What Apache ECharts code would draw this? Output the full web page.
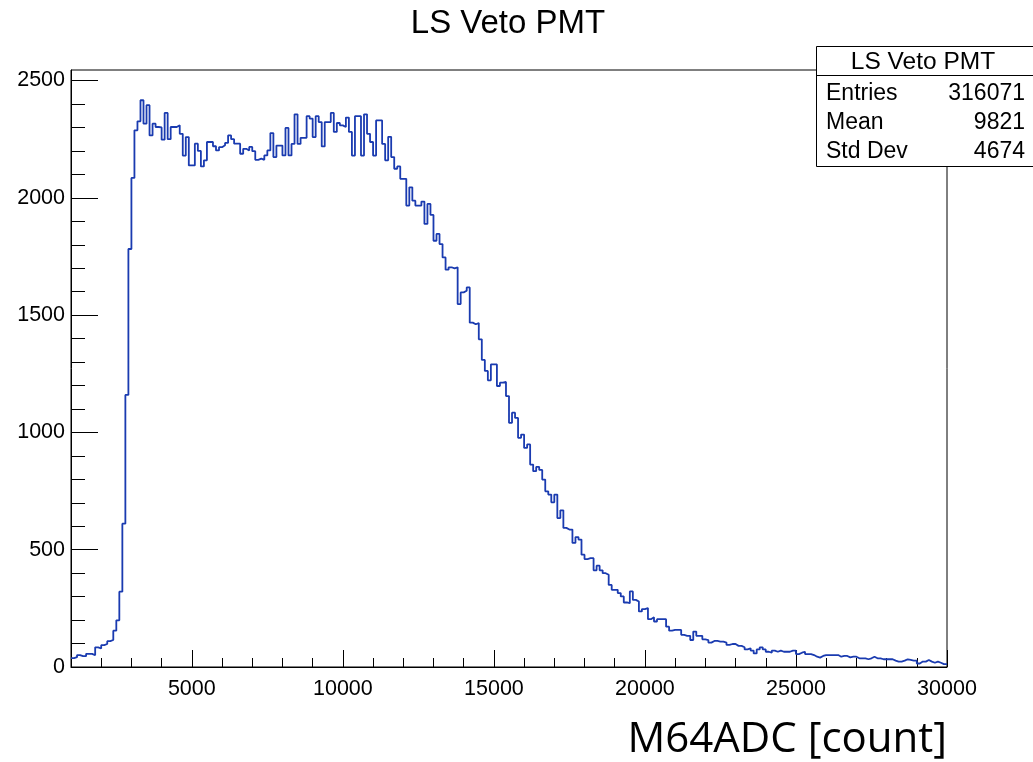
<!DOCTYPE html>
<html><head><meta charset="utf-8">
<script src="https://cdn.jsdelivr.net/npm/echarts@6/dist/echarts.min.js"></script>
<style>html,body{margin:0;padding:0;background:#fff}#c{width:1033px;height:762px}</style>
</head><body><div id="c"></div>
<script>
const chartTitle = 'LS Veto PMT';
const xAxisTitle = 'M64ADC [count]';
const binStart = 1000;
const binWidth = 100;
const counts = [
38, 42, 51, 46, 46, 56, 56, 50, 84, 79,
93, 98, 110, 115, 155, 199, 321, 611, 1160, 1782,
2085, 2288, 2326, 2416, 2316, 2395, 2266, 2316, 2302, 2300,
2248, 2362, 2250, 2302, 2302, 2309, 2273, 2180, 2259, 2138,
2138, 2231, 2200, 2134, 2160, 2238, 2238, 2220, 2202, 2216,
2224, 2234, 2266, 2250, 2231, 2231, 2188, 2209, 2202, 2217,
2199, 2162, 2167, 2162, 2181, 2202, 2276, 2174, 2223, 2223,
2181, 2298, 2181, 2230, 2356, 2230, 2256, 2256, 2348, 2338,
2259, 2348, 2323, 2219, 2323, 2323, 2362, 2281, 2319, 2309,
2302, 2342, 2281, 2180, 2348, 2348, 2180, 2356, 2273, 2238,
2180, 2330, 2330, 2230, 2160, 2260, 2174, 2124, 2134, 2081,
2081, 1967, 2045, 1988, 1967, 1967, 1984, 1889, 1974, 1927,
1817, 1846, 1803, 1746, 1694, 1704, 1699, 1704, 1547, 1597,
1604, 1618, 1468, 1461, 1466, 1397, 1309, 1262, 1222, 1290,
1290, 1198, 1212, 1215, 1155, 1041, 1084, 1062, 977, 991,
934, 949, 863, 835, 853, 840, 799, 749, 735, 702,
735, 635, 668, 593, 586, 586, 529, 554, 543, 479,
460, 464, 464, 412, 432, 412, 400, 393, 350, 329,
329, 315, 301, 275, 272, 322, 286, 279, 237, 247,
251, 204, 212, 194, 204, 204, 204, 172, 155, 158,
158, 158, 137, 133, 133, 115, 151, 133, 133, 118,
115, 104, 111, 111, 108, 108, 104, 94, 98, 98,
90, 90, 84, 75, 80, 70, 58, 75, 84, 75,
65, 61, 70, 65, 70, 65, 65, 65, 70, 70,
55, 61, 65, 55, 55, 51, 44, 40, 47, 51,
51, 51, 51, 51, 44, 47, 47, 41, 44, 44,
37, 37, 37, 33, 37, 44, 37, 37, 33, 33,
33, 33, 27, 23, 23, 27, 33, 30, 27, 27,
15, 23, 23, 30, 23, 18, 23, 18, 12, 12
];
const xMajorTicks = [5000, 10000, 15000, 20000, 25000, 30000];
const xMinorTicks = [2000, 3000, 4000, 6000, 7000, 8000, 9000, 11000, 12000, 13000, 14000,
  16000, 17000, 18000, 19000, 21000, 22000, 23000, 24000, 26000, 27000, 28000, 29000];
const yMajorTicks = [0, 500, 1000, 1500, 2000, 2500];
const yMinorTicks = [100, 200, 300, 400, 600, 700, 800, 900, 1100, 1200, 1300, 1400,
  1600, 1700, 1800, 1900, 2100, 2200, 2300, 2400];
const statsLabels = ['Entries', 'Mean', 'Std Dev'];
const statsValues = ['316071', '9821', '4674'];

const xMin = 1000, xMax = 30000, yMin = 0, yMax = 2545;

const data = counts.map((c, i) => [binStart + i * binWidth, c]);
data.push([binStart + counts.length * binWidth, counts[counts.length - 1]]);

const FONT = '"Liberation Sans", Arial, Helvetica, sans-serif';
const chart = echarts.init(document.getElementById('c'), null, {renderer: 'canvas'});
const plain = v => String(Math.round(v));

function xAx(ticks, len, labels, line) {
  return {
    type: 'value', min: xMin, max: xMax, position: 'bottom',
    axisLine: {show: line, onZero: false, lineStyle: {color: '#000', width: 1}},
    axisTick: {show: true, inside: true, length: len, customValues: ticks, lineStyle: {color: '#000', width: 1}},
    axisLabel: labels ? {show: true, customValues: ticks, formatter: plain, color: '#000', fontSize: 21.5, fontFamily: FONT, margin: 11} : {show: false},
    splitLine: {show: false}, minorTick: {show: false}
  };
}
function yAx(ticks, len, labels, line) {
  return {
    type: 'value', min: yMin, max: yMax, position: 'left',
    axisLine: {show: line, onZero: false, lineStyle: {color: '#000', width: 1}},
    axisTick: {show: true, inside: true, length: len, customValues: ticks, lineStyle: {color: '#000', width: 1}},
    axisLabel: labels ? {show: true, customValues: ticks, formatter: plain, color: '#000', fontSize: 21.5, fontFamily: FONT, margin: 6} : {show: false},
    splitLine: {show: false}, minorTick: {show: false}
  };
}

const statsX = 816, statsY = 46, statsW = 240, statsH = 120;
const graphics = [
  {type: 'text', x: 508, y: 24, z: 100,
   style: {text: chartTitle, fill: '#000', fontSize: 33, fontFamily: FONT, align: 'center', verticalAlign: 'middle'}},
  {type: 'rect', z: 100, shape: {x: statsX + 0.5, y: statsY + 0.5, width: statsW, height: statsH},
   style: {fill: '#fff', stroke: '#000', lineWidth: 1}},
  {type: 'line', z: 101, shape: {x1: statsX, y1: 75.5, x2: 1033, y2: 75.5},
   style: {stroke: '#000', lineWidth: 1}},
  {type: 'text', x: 923, y: 62, z: 102,
   style: {text: chartTitle, fill: '#000', fontSize: 24.5, fontFamily: FONT, align: 'center', verticalAlign: 'middle'}},
  {type: 'text', x: 947, y: 740, z: 100,
   style: {text: xAxisTitle, fill: '#000', fontSize: 42, fontFamily: '"Open Sans", "Noto Sans", sans-serif', align: 'right', verticalAlign: 'middle'}}
];
const rowY = [94, 123, 152];
statsLabels.forEach((s, i) => {
  graphics.push({type: 'text', x: 826, y: rowY[i], z: 102,
    style: {text: s, fill: '#000', fontSize: 23, fontFamily: FONT, align: 'left', verticalAlign: 'middle'}});
  graphics.push({type: 'text', x: 1025, y: rowY[i], z: 102,
    style: {text: statsValues[i], fill: '#000', fontSize: 23, fontFamily: FONT, align: 'right', verticalAlign: 'middle'}});
});

chart.setOption({
  animation: false,
  backgroundColor: '#fff',
  grid: {left: 71, right: 86, top: 70, bottom: 95, show: true, borderColor: '#000', borderWidth: 1, backgroundColor: 'transparent'},
  xAxis: [xAx(xMajorTicks, 17, true, true), xAx(xMinorTicks, 9, false, false)],
  yAxis: [yAx(yMajorTicks, 27, true, true), yAx(yMinorTicks, 14, false, false)],
  series: [{
    type: 'line', xAxisIndex: 0, yAxisIndex: 0, step: 'end', symbol: 'none', data: data,
    lineStyle: {color: '#1a3bb0', width: 1.8}, clip: true
  }],
  graphic: graphics
});
</script></body></html>
